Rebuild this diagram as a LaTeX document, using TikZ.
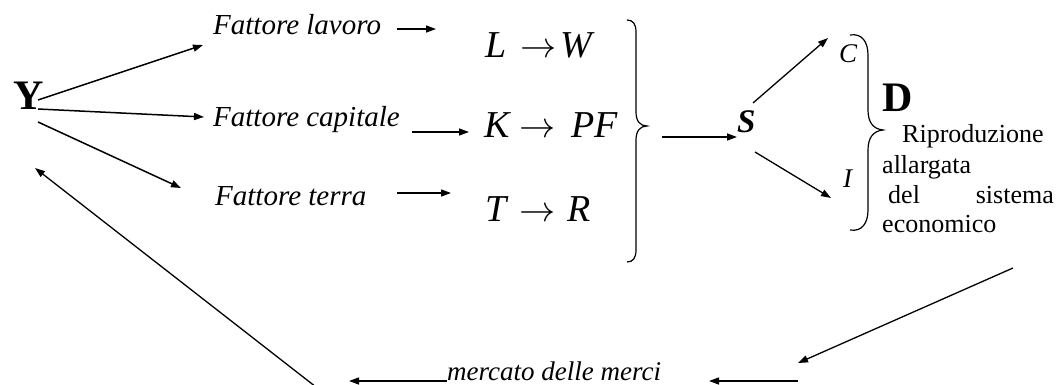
\RequirePackage{fix-cm}
\documentclass[tikz,border=0pt]{standalone}
\usepackage{fontspec}
\setmainfont{Liberation Serif}
\usetikzlibrary{arrows.meta}
\tikzset{
  conn/.style={line width=1.3pt, -{Triangle[length=10pt,width=7pt]}},
  lbl/.style={font=\fontsize{29}{29}\selectfont\itshape, inner sep=0pt, anchor=base west},
  bigl/.style={font=\fontsize{42}{42}\selectfont\bfseries, inner sep=0pt, anchor=base west},
  eqn/.style={font=\fontsize{38}{38}\selectfont, inner sep=0pt, anchor=base west},
  smalll/.style={font=\fontsize{27}{27}\selectfont\itshape, inner sep=0pt, anchor=base west},
  bodyt/.style={font=\fontsize{26}{26}\selectfont, inner sep=0pt, anchor=base west},
  bracep/.style={line width=1.2pt}
}
\newcommand{\rarr}{\resizebox{0.95em}{!}{$\rightarrow$}}
\begin{document}
\begin{tikzpicture}[x=1pt,y=-1pt]
\useasboundingbox (0,0) rectangle (1058,385);
% main nodes
\node[bigl] (Y) at (13,110) {Y};
\node[lbl] (fl) at (213,35) {Fattore lavoro};
\node[lbl] (fc) at (213,127) {Fattore capitale};
\node[lbl] (ft) at (215,205) {Fattore terra};
\node[eqn] (lw) at (485,58) {\textit{L}\hspace{0.36em}\rarr\hspace{0.12em}\textit{W}};
\node[eqn] (kp) at (484,138) {\textit{K}\hspace{0.22em}\rarr\hspace{0.42em}\textit{PF}};
\node[eqn] (tr) at (485,221) {\textit{T}\hspace{0.3em}\rarr\hspace{0.3em}\textit{R}};
\node[font=\fontsize{33}{33}\selectfont\bfseries\itshape, inner sep=0pt, anchor=base west] (S) at (737,133) {S};
\node[smalll] (C) at (839,63) {C};
\node[smalll] (I) at (843,188) {I};
\node[bigl] (D) at (882,112) {D};
\node[bodyt] (r1) at (902,143) {Riproduzione};
\node[bodyt] (r2) at (882,174) {allargata};
\node[bodyt] (r3a) at (888,204) {del};
\node[bodyt, anchor=base east] (r3b) at (1054,204) {sistema};
\node[bodyt] (r4) at (882,233) {economico};
\node[font=\fontsize{27}{27}\selectfont\itshape, inner sep=0pt, anchor=base west] (mm) at (447,380) {mercato delle merci};
% coordinates
\coordinate (y1s) at (38,100); \coordinate (y1e) at (203,45);
\coordinate (y2s) at (38,109); \coordinate (y2e) at (204,117);
\coordinate (y3s) at (38,122); \coordinate (y3e) at (181,188);
\coordinate (a1s) at (397,29); \coordinate (a1e) at (436,29);
\coordinate (a2s) at (412,132); \coordinate (a2e) at (469,132);
\coordinate (a3s) at (397,193); \coordinate (a3e) at (451,193);
\coordinate (bs) at (662,137);
\coordinate (sc) at (753,103); \coordinate (ce) at (828,38);
\coordinate (si) at (755,152); \coordinate (ie) at (831,198);
\coordinate (ds) at (1013,268); \coordinate (de) at (798,363);
\coordinate (m1s) at (798,381); \coordinate (m1e) at (709,381);
\coordinate (m2s) at (447,381); \coordinate (m2e) at (349,381);
\coordinate (backs) at (316,387); \coordinate (backe) at (35,168);
% connectors
\draw[conn, line width=1.5pt] (y1s) -- (y1e);
\draw[conn, line width=1.5pt] (y2s) -- (y2e);
\draw[conn, line width=1.5pt] (y3s) -- (y3e);
\draw[conn] (a1s) -- (a1e);
\draw[conn] (a2s) -- (a2e);
\draw[conn] (a3s) -- (a3e);
\draw[conn] (bs) -- (S.west |- bs);
\draw[conn] (sc) -- (ce);
\draw[conn] (si) -- (ie);
\draw[conn] (ds) -- (de);
\draw[conn] (m1s) -- (m1e);
\draw[conn] (m2s) -- (m2e);
\draw[conn] (backs) -- (backe);
% braces
\draw[bracep] (627,20) .. controls (633,20) and (636,24) .. (636,32) -- (636,112)
  .. controls (636,121) and (640,126) .. (647,126)
  .. controls (640,126) and (636,131) .. (636,140) -- (636,250)
  .. controls (636,258) and (633,262) .. (627,262);
\draw[bracep] (850,35) .. controls (862,33) and (868,42) .. (868,55) -- (868,110)
  .. controls (868,122) and (873,129) .. (883,130)
  .. controls (873,131) and (868,138) .. (868,150) -- (868,210)
  .. controls (868,223) and (862,232) .. (850,230);
\end{tikzpicture}
\end{document}
